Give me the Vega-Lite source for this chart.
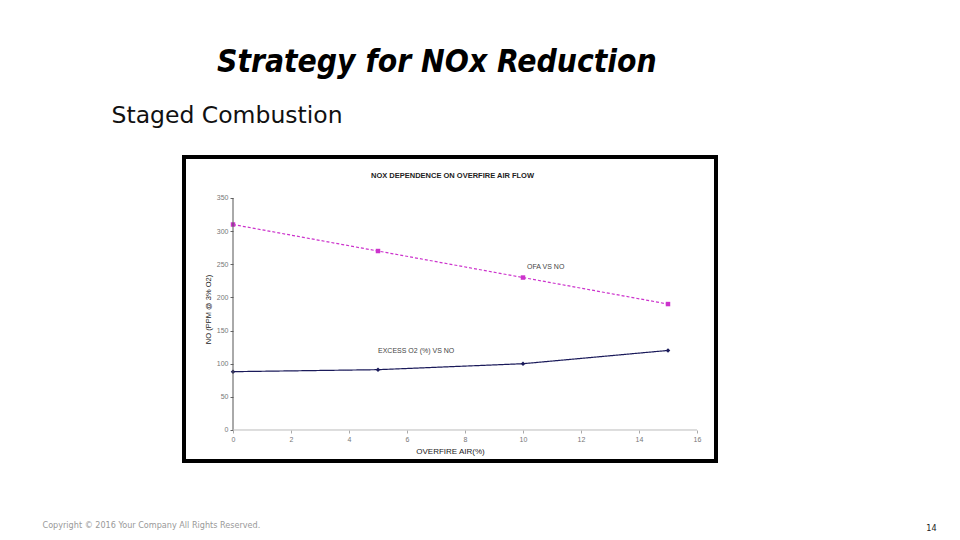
{
  "$schema": "https://vega.github.io/schema/vega-lite/v6.json",
  "width": 532,
  "height": 304,
  "autosize": {"type": "none"},
  "padding": {"left": 184, "top": 157, "right": 244, "bottom": 79},
  "background": "white",
  "title": {
    "text": "Strategy for NOx Reduction",
    "font": "Liberation Sans Narrow, DejaVu Sans Condensed, Roboto Condensed, Open Sans, sans-serif",
    "fontSize": 31.5,
    "fontStyle": "italic",
    "fontWeight": "bold",
    "color": "#000000",
    "anchor": "start",
    "frame": "group",
    "dx": 33,
    "offset": 0,
    "baseline": "alphabetic"
  },
  "datasets": {
    "series": [
      {"series": "OFA VS NO", "ofa": 0, "no": 310},
      {"series": "OFA VS NO", "ofa": 5, "no": 270},
      {"series": "OFA VS NO", "ofa": 10, "no": 230},
      {"series": "OFA VS NO", "ofa": 15, "no": 190},
      {"series": "EXCESS O2 (%) VS NO", "ofa": 0, "no": 88},
      {"series": "EXCESS O2 (%) VS NO", "ofa": 5, "no": 91},
      {"series": "EXCESS O2 (%) VS NO", "ofa": 10, "no": 100},
      {"series": "EXCESS O2 (%) VS NO", "ofa": 15, "no": 120}
    ],
    "labels": [
      {"label": "OFA VS NO", "ofa": 10, "no": 230},
      {"label": "EXCESS O2 (%) VS NO", "ofa": 5, "no": 91}
    ]
  },
  "layer": [
    {
      "data": {"name": "series"},
      "encoding": {
        "x": {
          "field": "ofa",
          "type": "quantitative",
          "scale": {"domain": [-1.6897, 16.6552], "nice": false, "zero": false},
          "axis": {
            "values": [0, 2, 4, 6, 8, 10, 12, 14, 16],
            "offset": -31,
            "domain": false,
            "grid": false,
            "tickSize": 3,
            "tickColor": "#aaaaaa",
            "labelFontSize": 7,
            "labelColor": "#777777",
            "labelPadding": 2,
            "labelFont": "Liberation Sans",
            "title": "OVERFIRE AIR(%)",
            "titleFont": "Liberation Sans",
            "titleFontSize": 8,
            "titleFontWeight": "normal",
            "titleColor": "#222222",
            "titlePadding": 5
          }
        },
        "y": {
          "field": "no",
          "type": "quantitative",
          "scale": {"domain": [-46.77, 411.85], "nice": false, "zero": false},
          "axis": {
            "values": [0, 50, 100, 150, 200, 250, 300, 350],
            "offset": -49,
            "domain": false,
            "grid": false,
            "tickSize": 3,
            "tickColor": "#666666",
            "labelFontSize": 7,
            "labelColor": "#777777",
            "labelPadding": 2,
            "labelFont": "Liberation Sans",
            "title": "NO (PPM @ 3% O2)",
            "titleFont": "Liberation Sans",
            "titleFontSize": 7.5,
            "titleFontWeight": "normal",
            "titleColor": "#222222",
            "titlePadding": 4
          }
        },
        "color": {
          "field": "series",
          "type": "nominal",
          "scale": {"domain": ["OFA VS NO", "EXCESS O2 (%) VS NO"], "range": ["#cc33cc", "#1a1a5a"]},
          "legend": null
        }
      },
      "layer": [
        {
          "mark": {"type": "line", "strokeWidth": 1.2},
          "encoding": {
            "strokeDash": {
              "field": "series",
              "type": "nominal",
              "scale": {"domain": ["OFA VS NO", "EXCESS O2 (%) VS NO"], "range": [[3, 2], [1, 0]]},
              "legend": null
            }
          }
        },
        {
          "mark": {"type": "point", "filled": true, "size": 20, "opacity": 1},
          "encoding": {
            "shape": {
              "field": "series",
              "type": "nominal",
              "scale": {"domain": ["OFA VS NO", "EXCESS O2 (%) VS NO"], "range": ["square", "diamond"]},
              "legend": null
            }
          }
        }
      ]
    },
    {
      "data": {"name": "labels"},
      "encoding": {
        "x": {
          "field": "ofa",
          "type": "quantitative",
          "scale": {"domain": [-1.6897, 16.6552], "nice": false, "zero": false},
          "axis": {
            "orient": "top",
            "domain": false,
            "ticks": false,
            "labels": false,
            "grid": false,
            "title": "NOX DEPENDENCE ON OVERFIRE AIR FLOW",
            "titleX": 268,
            "titleY": 18,
            "titleAlign": "center",
            "titleBaseline": "middle",
            "titleFont": "Liberation Sans",
            "titleFontSize": 7.5,
            "titleFontWeight": "bold",
            "titleColor": "#222222"
          }
        },
        "y": {
          "field": "no",
          "type": "quantitative",
          "scale": {"domain": [-46.77, 411.85], "nice": false, "zero": false},
          "axis": {
            "orient": "right",
            "domain": false,
            "ticks": false,
            "labels": false,
            "grid": false,
            "title": "Staged Combustion",
            "titleAngle": 0,
            "titleAlign": "left",
            "titleBaseline": "alphabetic",
            "titleX": -605,
            "titleY": -35,
            "titleFont": "DejaVu Sans",
            "titleFontSize": 23.5,
            "titleFontWeight": "normal",
            "titleColor": "#111111"
          }
        },
        "text": {"field": "label", "type": "nominal"}
      },
      "layer": [
        {
          "transform": [{"filter": "datum.label == 'OFA VS NO'"}],
          "mark": {"type": "text", "align": "left", "baseline": "middle", "dx": 4, "dy": -11, "fontSize": 7, "font": "Liberation Sans", "color": "#444444"}
        },
        {
          "transform": [{"filter": "datum.label != 'OFA VS NO'"}],
          "mark": {"type": "text", "align": "left", "baseline": "middle", "dx": 0, "dy": -19, "fontSize": 7, "font": "Liberation Sans", "color": "#444444"}
        }
      ]
    },
    {
      "data": {"values": [{}]},
      "layer": [
        {
          "mark": {"type": "rule", "color": "#555555", "strokeWidth": 1},
          "encoding": {
            "x": {
              "datum": 0,
              "type": "quantitative",
              "scale": {"domain": [-1.6897, 16.6552], "nice": false, "zero": false},
              "axis": {
                "orient": "bottom",
                "domain": false,
                "ticks": false,
                "labels": false,
                "grid": false,
                "title": "Copyright © 2016 Your Company All Rights Reserved.",
                "titleX": -142,
                "titleY": 63,
                "titleAlign": "left",
                "titleBaseline": "middle",
                "titleFont": "Liberation Sans Narrow, DejaVu Sans Condensed, Open Sans, sans-serif",
                "titleFontSize": 9,
                "titleFontWeight": "normal",
                "titleColor": "#999999"
              }
            },
            "y": {
              "datum": 0,
              "type": "quantitative",
              "scale": {"domain": [-46.77, 411.85], "nice": false, "zero": false},
              "axis": {
                "orient": "left",
                "domain": false,
                "ticks": false,
                "labels": false,
                "grid": false,
                "title": "14",
                "titleAngle": 0,
                "titleX": 747,
                "titleY": 370,
                "titleAlign": "center",
                "titleBaseline": "middle",
                "titleFont": "Liberation Sans Narrow, DejaVu Sans Condensed, Open Sans, sans-serif",
                "titleFontSize": 9,
                "titleFontWeight": "normal",
                "titleColor": "#222222"
              }
            },
            "y2": {"datum": 350}
          }
        },
        {
          "mark": {"type": "rule", "color": "#bbbbbb", "strokeWidth": 1},
          "encoding": {
            "x": {"datum": 0, "type": "quantitative"},
            "x2": {"datum": 16},
            "y": {"datum": 0, "type": "quantitative"}
          }
        }
      ]
    }
  ],
  "resolve": {
    "scale": {"x": "independent", "y": "independent"},
    "axis": {"x": "independent", "y": "independent"}
  },
  "config": {
    "view": {"stroke": "#000000", "strokeWidth": 4},
    "font": "Liberation Sans"
  }
}
